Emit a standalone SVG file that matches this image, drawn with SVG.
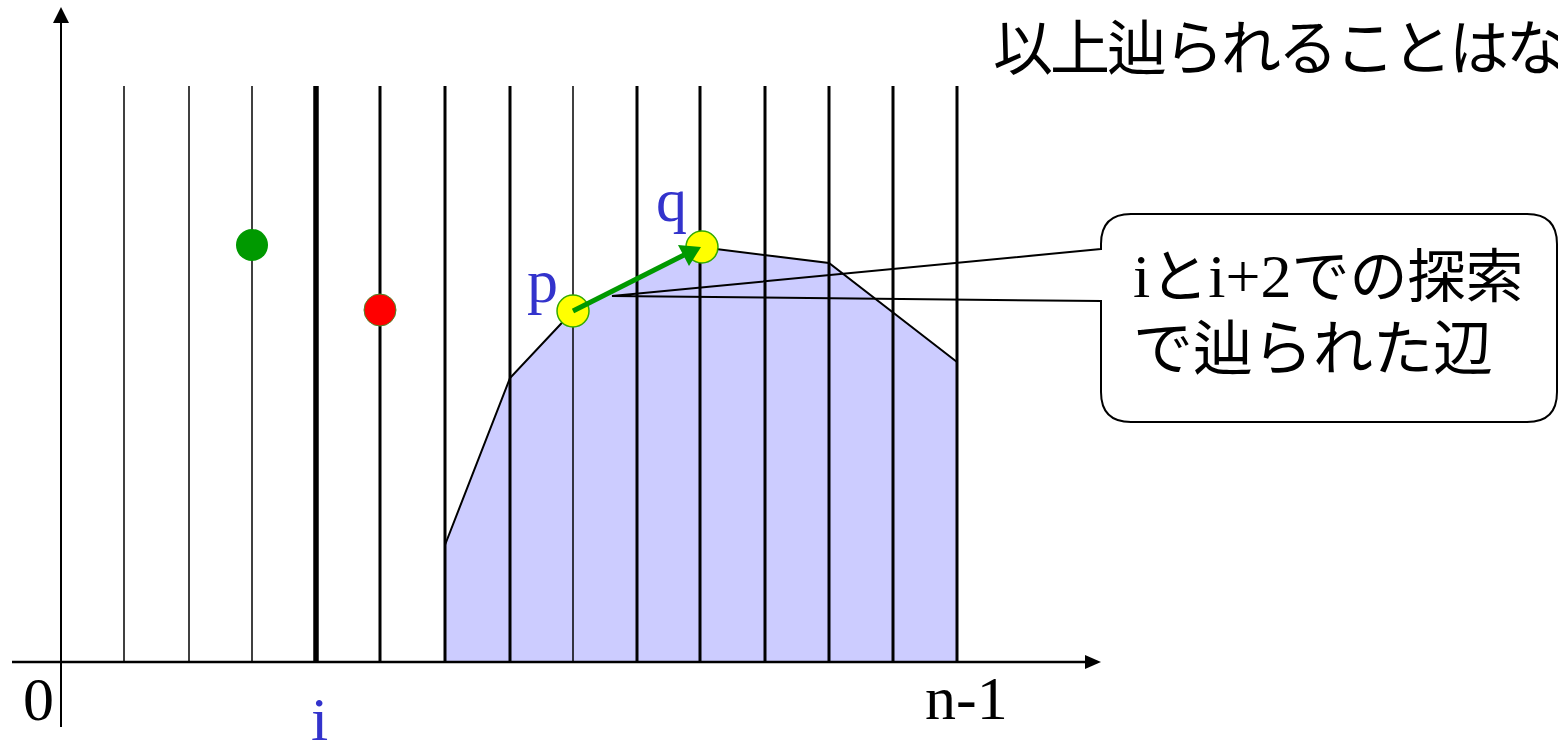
<svg xmlns="http://www.w3.org/2000/svg" width="1558" height="742" viewBox="0 0 1558 742">
<style>
.v1{stroke:#000;stroke-width:1.5}
.v3{stroke:#000;stroke-width:3}
.lbl{font-family:"Liberation Serif","Times New Roman",serif;font-size:62px}
.blue{fill:#3333cc}
.jp{font-family:"Noto Sans CJK JP","Noto Sans",sans-serif}
</style>
<rect width="1558" height="742" fill="#fff"/>
<g id="hull">
<polygon points="445,545 510,378 573,311 700,247 829,263 957,362 957,662 445,662" fill="#ccccff"/>
<polyline points="445,545 510,378 573,311" fill="none" stroke="#000" stroke-width="2"/>
<polyline points="700,247 829,263 957,362" fill="none" stroke="#000" stroke-width="2"/>
</g>
<g id="grid">
<line class="v1" x1="124" y1="86" x2="124" y2="662"/>
<line class="v1" x1="189" y1="86" x2="189" y2="662"/>
<line class="v1" x1="252" y1="86" x2="252" y2="662"/>
<line x1="316" y1="86" x2="316" y2="662" stroke="#000" stroke-width="5.5"/>
<line class="v3" x1="380" y1="86" x2="380" y2="662"/>
<line class="v3" x1="445" y1="86" x2="445" y2="662"/>
<line class="v3" x1="510" y1="86" x2="510" y2="662"/>
<line class="v1" x1="573" y1="86" x2="573" y2="662"/>
<line class="v3" x1="637" y1="86" x2="637" y2="662"/>
<line class="v3" x1="700" y1="86" x2="700" y2="662"/>
<line class="v3" x1="765" y1="86" x2="765" y2="662"/>
<line class="v3" x1="829" y1="86" x2="829" y2="662"/>
<line class="v3" x1="893" y1="86" x2="893" y2="662"/>
<line class="v3" x1="957" y1="86" x2="957" y2="662"/>
</g>
<g id="axes">
<line x1="61" y1="727" x2="61" y2="22" stroke="#000" stroke-width="2"/>
<path d="M61,7 L69,23 L53,23 Z" fill="#000"/>
<line x1="12" y1="662" x2="1086" y2="662" stroke="#000" stroke-width="2.5"/>
<path d="M1101,662 L1085,655 L1085,669 Z" fill="#000"/>
</g>
<g id="callout-outline">
<path d="M1101,249 L612,296 L1101,301 L1101,392 Q1101,422 1131,422 L1527,422 Q1557,422 1557,392 L1557,244 Q1557,214 1527,214 L1131,214 Q1101,214 1101,244 Z" fill="none" stroke="#000" stroke-width="2"/>
</g>
<g id="dot-green"><circle cx="252" cy="245" r="16" fill="#009900"/></g>
<g id="dot-red"><circle cx="380" cy="310" r="16" fill="#ff0000" stroke="#4a8a2a" stroke-width="1"/></g>
<g id="node-p"><circle cx="573" cy="311" r="16" fill="#ffff00" stroke="#33aa00" stroke-width="1.5"/><text class="lbl blue" x="527" y="302">p</text></g>
<g id="node-q"><circle cx="702" cy="247" r="16" fill="#ffff00" stroke="#33aa00" stroke-width="1.5"/><text class="lbl blue" x="656" y="221">q</text></g>
<g id="connectors">
<line x1="573" y1="311" x2="684" y2="255" stroke="#009900" stroke-width="5"/>
<path d="M701,247 L678,245 L689,266 Z" fill="#009900"/>
</g>
<g id="labels">
<text class="lbl" x="23" y="720">0</text>
<text class="lbl blue" x="311" y="740">i</text>
<text class="lbl" x="925" y="719">n-1</text>
<text class="jp" x="993" y="70" font-size="60" letter-spacing="-3">以上辿られることはな</text>
</g>
<g id="callout-text">
<text x="1133" y="297"><tspan class="lbl" font-size="58">i</tspan><tspan class="jp" font-size="58">と</tspan><tspan class="lbl" font-size="58">i+2</tspan><tspan class="jp" font-size="58">での探索</tspan></text>
<text class="jp" x="1133" y="370" font-size="60">で辿られた辺</text>
</g>
</svg>
